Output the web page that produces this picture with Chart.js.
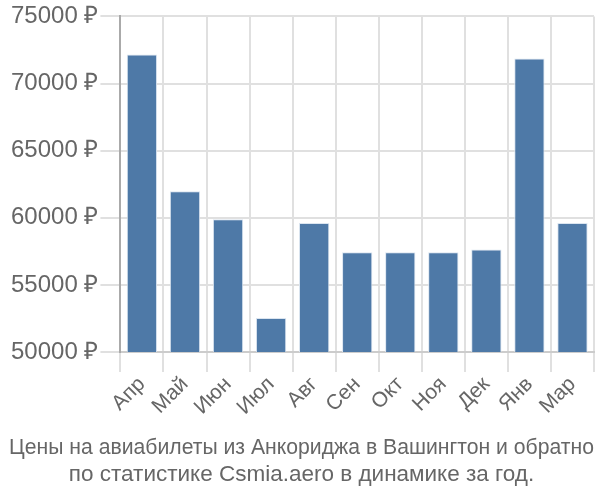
<!DOCTYPE html>
<html>
<head>
<meta charset="utf-8">
<script src="https://cdn.jsdelivr.net/npm/chart.js@4"></script>
<style>
  html, body { margin: 0; padding: 0; background: #fff; }
  #wrap { width: 600px; height: 500px; }
</style>
</head>
<body>
<div id="wrap"><canvas id="chart"></canvas></div>
<script>
// months and average prices (rubles)
const months = ["Апр", "Май", "Июн", "Июл", "Авг", "Сен", "Окт", "Ноя", "Дек", "Янв", "Мар"];
const prices = [72170, 61970, 59890, 52540, 59620, 57440, 57440, 57440, 57630, 71870, 59620];
const titleLines = [
  "Цены на авиабилеты из Анкориджа в Вашингтон и обратно",
  "по статистике Csmia.aero в динамике за год."
];

const ctx = document.getElementById("chart").getContext("2d");

new Chart(ctx, {
  type: "bar",
  data: {
    labels: months,
    datasets: [{
      data: prices,
      backgroundColor: "#4e79a7",
      borderColor: "#dbe5f0",
      borderWidth: { top: 1, left: 1, right: 1, bottom: 0 },
      categoryPercentage: 0.8,
      barPercentage: 0.88
    }]
  },
  options: {
    responsive: true,
    maintainAspectRatio: false,
    animation: false,
    layout: { padding: { top: 4, right: 6, left: 9, bottom: 0 } },
    plugins: {
      legend: { display: false },
      tooltip: { enabled: false },
      title: {
        display: true,
        position: "bottom",
        text: titleLines,
        color: "#666",
        font: { family: "Liberation Sans, Arial, sans-serif", size: 22.5, weight: "normal" },
        padding: { top: 14, bottom: 12 },
        lineHeight: 1.18
      }
    },
    scales: {
      x: {
        grid: { color: "#e0e0e0", lineWidth: 2, tickLength: 20, offset: true },
        border: { color: "#ccc", width: 2 },
        ticks: {
          color: "#666",
          font: { family: "Liberation Sans, Arial, sans-serif", size: 21 },
          maxRotation: 45,
          minRotation: 45,
          padding: 0
        }
      },
      y: {
        min: 50000,
        max: 75000,
        grid: { color: "#e0e0e0", lineWidth: 2, tickLength: 20 },
        border: { color: "#aaa", width: 2 },
        ticks: {
          stepSize: 5000,
          color: "#666",
          padding: 2,
          font: { family: "Liberation Sans, Arial, sans-serif", size: 24 },
          callback: v => v + " ₽"
        }
      }
    }
  }
});
</script>
</body>
</html>
